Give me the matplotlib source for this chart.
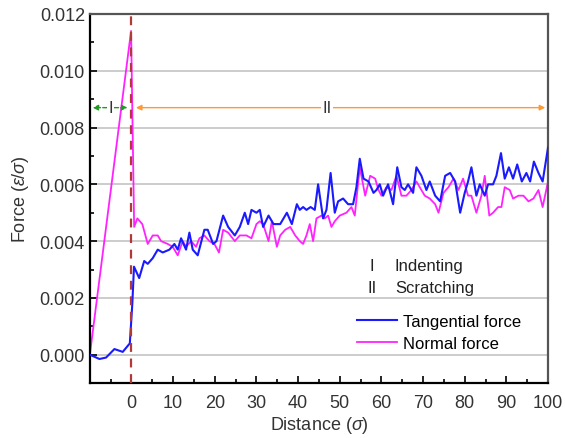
import matplotlib.pyplot as plt
from matplotlib.ticker import MultipleLocator, FormatStrFormatter

plt.rcParams['font.family'] = ['Liberation Sans', 'DejaVu Sans']
plt.rcParams['mathtext.fontset'] = 'custom'
plt.rcParams['mathtext.rm'] = 'Liberation Sans'
plt.rcParams['mathtext.it'] = 'Liberation Sans:italic'

# tangential force (blue)
tan_x = [-10, -7.7, -6.1, -4.1, -2.1, -0.4, 0.2, 0.6, 1.85, 3.05, 3.9, 5.1, 6.3, 7.5, 9.1,
         10.3, 11.1, 11.9, 13.1, 13.9, 14.7, 15.9, 17.5, 18.3, 19.6, 20.4, 22.0, 23.2,
         24.8, 26.0, 27.2, 28.0, 28.8, 30.0, 30.8, 31.6, 32.9, 34.1, 35.7, 37.3, 38.5,
         39.7, 40.4, 41.2, 42.0, 43.0, 44.0, 44.8, 46.0, 46.8, 47.8, 48.8, 49.6, 50.8,
         52.0, 53.2, 54.0, 54.8, 55.7, 56.9, 58.1, 58.8, 59.6, 60.4, 61.6, 62.8, 63.8,
         64.8, 65.6, 66.4, 67.6, 68.4, 69.6, 70.8, 71.6, 72.9, 74.1, 75.3, 76.5, 77.7,
         78.9, 80.0, 80.8, 81.6, 82.8, 83.6, 84.8, 85.6, 86.8, 87.6, 88.7, 89.6, 90.6,
         91.6, 92.6, 93.7, 94.8, 95.7, 96.6, 97.7, 98.7, 100]
tan_y = [0.0000, -0.00015, -0.0001, 0.0002, 0.0001, 0.0004, 0.0018, 0.0031, 0.0027,
         0.0033, 0.0032, 0.0034, 0.0037, 0.0036, 0.0037, 0.0039, 0.0037, 0.0041, 0.0037,
         0.0043, 0.0037, 0.0035, 0.0044, 0.0044, 0.0039, 0.0040, 0.0049, 0.0045, 0.0042,
         0.0045, 0.0050, 0.0046, 0.0051, 0.0050, 0.0051, 0.0045, 0.0049, 0.0046, 0.0046,
         0.0050, 0.0046, 0.0053, 0.0051, 0.0052, 0.0051, 0.0052, 0.0051, 0.0060, 0.0048,
         0.0051, 0.0064, 0.0050, 0.0054, 0.0055, 0.0053, 0.0053, 0.0059, 0.0069, 0.0062,
         0.0061, 0.0057, 0.0058, 0.0060, 0.0056, 0.0060, 0.0053, 0.0066, 0.0059, 0.0058,
         0.0060, 0.0057, 0.0066, 0.0063, 0.0058, 0.0061, 0.0056, 0.0054, 0.0063, 0.0064,
         0.0061, 0.0050, 0.0057, 0.0061, 0.0066, 0.0056, 0.0060, 0.0056, 0.0060, 0.0060,
         0.0063, 0.0071, 0.0062, 0.0066, 0.0062, 0.0067, 0.0061, 0.0064, 0.0061, 0.0068,
         0.0064, 0.0061, 0.0073]

# normal force (magenta)
norm_x = [-10, -0.1, 0.64, 1.4, 2.6, 3.9, 5.1, 6.3, 7.1, 8.7, 9.9, 11.1, 12.3, 13.1, 14.3,
          15.5, 16.3, 17.5, 18.7, 19.9, 21.0, 22.0, 23.2, 24.8, 26.0, 27.6, 28.8, 30.0,
          30.8, 31.6, 32.9, 33.7, 34.9, 35.7, 36.9, 38.1, 39.3, 40.4, 41.2, 42.0, 42.8,
          43.6, 44.4, 45.6, 46.4, 47.2, 48.0, 48.8, 50.0, 51.6, 52.8, 53.6, 54.8, 56.1,
          57.3, 58.5, 59.3, 60.0, 61.2, 62.4, 63.6, 64.8, 66.0, 67.2, 68.4, 69.6, 70.4,
          71.6, 72.9, 73.7, 74.9, 76.1, 77.3, 78.5, 79.6, 80.8, 81.6, 82.8, 84.0, 84.8,
          85.9, 86.8, 88.0, 88.8, 89.6, 90.8, 91.6, 92.9, 94.1, 95.3, 96.5, 97.7, 98.7, 100]
norm_y = [0.0000, 0.0114, 0.0045, 0.0048, 0.0046, 0.0039, 0.0042, 0.0042, 0.0040, 0.0039,
          0.0038, 0.0035, 0.0040, 0.0038, 0.0040, 0.0038, 0.0041, 0.0042, 0.0040, 0.0039,
          0.0036, 0.0044, 0.0043, 0.0040, 0.0042, 0.0042, 0.0041, 0.0046, 0.0047, 0.0046,
          0.0040, 0.0047, 0.0038, 0.0042, 0.0044, 0.0045, 0.0042, 0.0040, 0.0039, 0.0042,
          0.0046, 0.0040, 0.0048, 0.0049, 0.0048, 0.0049, 0.0045, 0.0047, 0.0049, 0.0050,
          0.0052, 0.0049, 0.0066, 0.0056, 0.0063, 0.0062, 0.0058, 0.0056, 0.0059, 0.0058,
          0.0063, 0.0056, 0.0056, 0.0058, 0.0061, 0.0058, 0.0056, 0.0055, 0.0053, 0.0050,
          0.0057, 0.0059, 0.0062, 0.0058, 0.0062, 0.0056, 0.0056, 0.0050, 0.0056, 0.0063,
          0.0049, 0.0050, 0.0052, 0.0052, 0.0059, 0.0058, 0.0055, 0.0056, 0.0056, 0.0054,
          0.0055, 0.0058, 0.0052, 0.0061]

fig = plt.figure(figsize=(5.65, 4.39), dpi=100)
ax = fig.add_axes([0.159, 0.125, 0.811, 0.841])

for yv in [0.000, 0.002, 0.004, 0.006, 0.008, 0.010]:
    ax.axhline(yv, color='#c4c4c4', lw=1.2, zorder=0)

ax.plot(tan_x, tan_y, color='#1a1aff', lw=1.5, label='Tangential force', zorder=3)
ax.plot(norm_x, norm_y, color='#ff22ff', lw=1.3, label='Normal force', zorder=2)
ax.axvline(0, color='#b03a3a', lw=1.6, ls=(0, (4, 3)), zorder=4)

# region arrows
ya = 0.0087
ax.annotate('', xy=(-10, ya), xytext=(-5, ya),
            arrowprops=dict(arrowstyle='-|>', color='#1e9a1e', lw=1, ls='--', mutation_scale=8))
ax.annotate('', xy=(-0.3, ya), xytext=(-5, ya),
            arrowprops=dict(arrowstyle='-|>', color='#1e9a1e', lw=1, ls='--', mutation_scale=8))
ax.text(-5, ya, 'I', ha='center', va='center', fontsize=12, color='#333333',
        bbox=dict(fc='white', ec='none', pad=1), zorder=5)
ax.annotate('', xy=(0.4, ya), xytext=(100, ya),
            arrowprops=dict(arrowstyle='<|-|>', color='#ff9933', lw=1, mutation_scale=8))
ax.text(47, ya, 'II', ha='center', va='center', fontsize=12, color='#333333',
        bbox=dict(fc='white', ec='none', pad=1), zorder=5)

ax.text(57.8, 0.00315, 'I', ha='center', va='center', fontsize=12, color='#222222')
ax.text(63.2, 0.00315, 'Indenting', ha='left', va='center', fontsize=12, color='#222222')
ax.text(57.8, 0.00235, 'II', ha='center', va='center', fontsize=12, color='#222222')
ax.text(63.4, 0.00235, 'Scratching', ha='left', va='center', fontsize=12, color='#222222')

ax.legend(loc='upper left', bbox_to_anchor=(0.568, 0.205), frameon=False, fontsize=12,
          handlelength=2.4, handletextpad=0.35, labelspacing=0.4, borderaxespad=0)

ax.set_xlim(-10, 100)
ax.set_ylim(-0.001, 0.012)
ax.xaxis.set_major_locator(MultipleLocator(10))
ax.xaxis.set_minor_locator(MultipleLocator(5))
ax.yaxis.set_major_locator(MultipleLocator(0.002))
ax.yaxis.set_minor_locator(MultipleLocator(0.001))
ax.yaxis.set_major_formatter(FormatStrFormatter('%.3f'))
ax.set_xticks(list(range(0, 101, 10)))
ax.tick_params(which='both', direction='in', top=False, right=False,
               labelsize=13, labelcolor='#333333', width=1.2)
ax.tick_params(which='major', length=5)
ax.tick_params(which='minor', length=3)
ax.tick_params(axis='x', pad=8)

for s in ['left', 'bottom']:
    ax.spines[s].set_linewidth(1.6)
    ax.spines[s].set_color('black')
for s in ['top', 'right']:
    ax.spines[s].set_linewidth(1.6)
    ax.spines[s].set_color('#555555')

ax.set_xlabel('Distance ($\\sigma$)', fontsize=13, color='#333333', labelpad=2)
ax.set_ylabel('Force ($\\varepsilon/\\sigma$)', fontsize=13, color='#333333', labelpad=6)

fig.savefig('out.png', dpi=100)
